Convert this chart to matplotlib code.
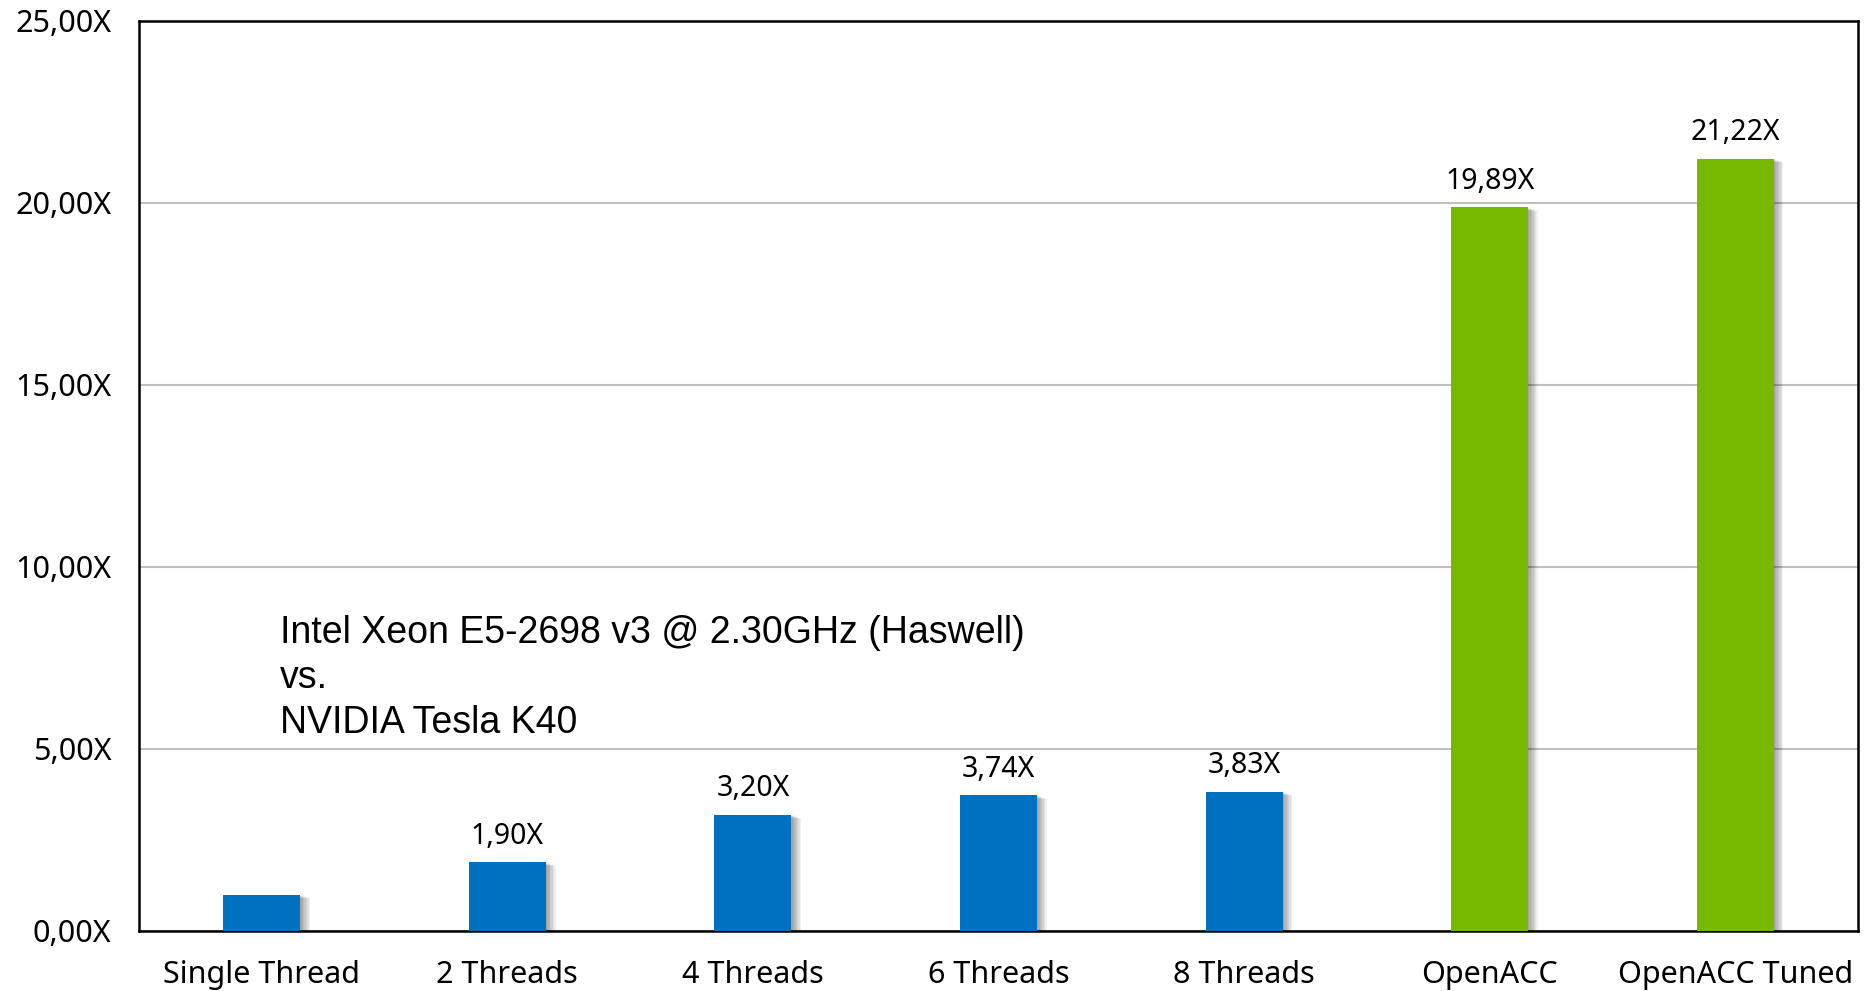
import matplotlib
matplotlib.use("Agg")
import matplotlib.pyplot as plt
import matplotlib.patheffects as pe
from matplotlib.ticker import FuncFormatter

categories = ["Single Thread", "2 Threads", "4 Threads", "6 Threads", "8 Threads",
              "OpenACC", "OpenACC Tuned"]
speedup = [1.00, 1.90, 3.20, 3.74, 3.83, 19.89, 21.22]
bar_colors = ["#0070C0"] * 5 + ["#76B900"] * 2
y_ticks = [0, 5, 10, 15, 20, 25]
note_lines = ["Intel Xeon E5-2698 v3 @ 2.30GHz (Haswell)", "vs.", "NVIDIA Tesla K40"]

label_font = ["Noto Sans", "DejaVu Sans"]

def fmt(v):
    return f"{v:.2f}".replace(".", ",") + "X"

fig = plt.figure(figsize=(18.66, 9.91), dpi=100)
ax = fig.add_axes([139 / 1866, 1 - 931 / 991, (1858 - 139) / 1866, (931 - 21) / 991])

x = list(range(len(categories)))
shadow = [pe.SimplePatchShadow(offset=(k, -0.4 * k), shadow_rgbFace="black", alpha=0.06)
          for k in (1, 2, 3, 4, 5, 6, 7)] + [pe.Normal()]
bars = ax.bar(x, speedup, width=0.313, color=bar_colors, zorder=3)
for b in bars:
    b.set_path_effects(shadow)

for xi, v in zip(x[1:], speedup[1:]):
    ax.annotate(fmt(v), (xi, v), xytext=(0, 8), textcoords="offset points",
                ha="center", va="bottom", fontsize=20.5, family=label_font, color="black")

ax.set_xlim(-0.5, len(categories) - 0.5)
ax.set_ylim(0, 25)
ax.set_yticks(y_ticks)
ax.yaxis.set_major_formatter(FuncFormatter(lambda v, p: fmt(v)))
ax.set_xticks(x)
ax.set_xticklabels(categories)
ax.tick_params(axis="y", length=0, pad=20, labelsize=22)
ax.tick_params(axis="x", length=0, pad=21, labelsize=22)
for lab in ax.get_xticklabels() + ax.get_yticklabels():
    lab.set_family(label_font)

ax.grid(axis="y", color="#BFBFBF", linewidth=1.5, zorder=0)
for s in ax.spines.values():
    s.set_color("black")
    s.set_linewidth(1.8)

fig.text(280 / 1866, 1 - 615 / 991, "\n".join(note_lines), fontsize=27,
         family=["Liberation Sans"], va="top", ha="left", linespacing=1.32)

fig.savefig("out.png", dpi=100, facecolor="white")
